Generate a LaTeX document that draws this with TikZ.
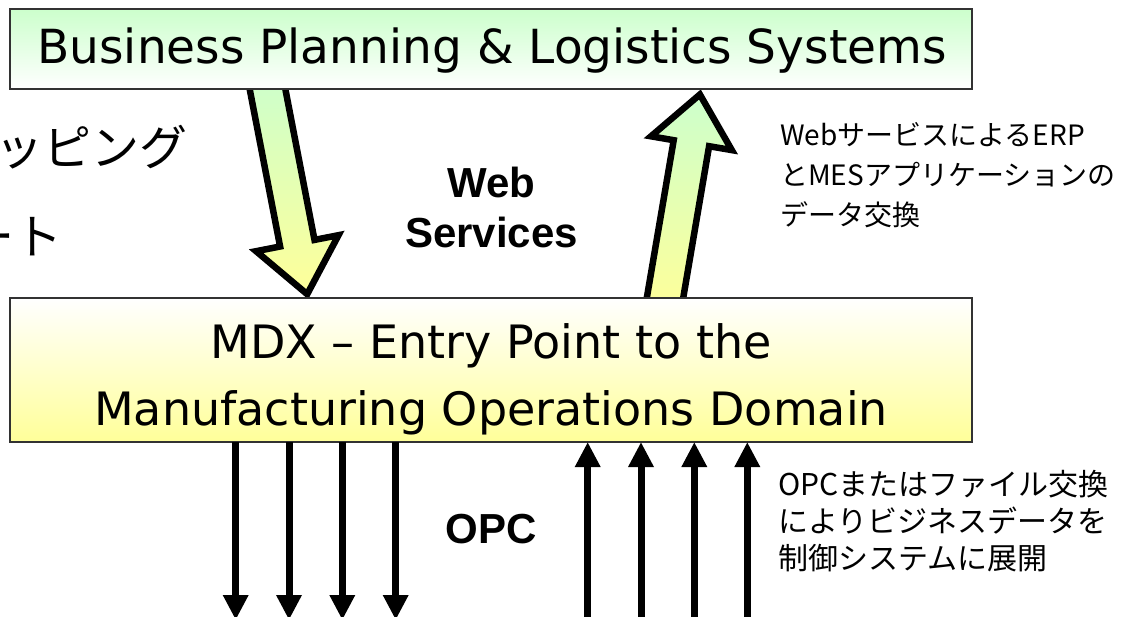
\documentclass[tikz,border=0pt]{standalone}
\usepackage{fontspec}
\setmainfont{DejaVu Sans}
\newfontfamily\jp{Noto Sans CJK JP}
\newfontfamily\arial{Liberation Sans}
\usetikzlibrary{arrows.meta}
\definecolor{lgreen}{RGB}{204,255,204}
\definecolor{lyellow}{RGB}{255,255,153}
\definecolor{boxline}{RGB}{50,50,50}
\tikzset{
  boxbase/.style={draw=boxline, line width=2pt, inner sep=0pt, outer sep=0pt, anchor=north west},
  greenbox/.style={boxbase, top color=lgreen, bottom color=white},
  yellowbox/.style={boxbase, top color=white, bottom color=lyellow},
  boxtext/.style={anchor=base, inner sep=0pt, font=\fontsize{46}{55}\selectfont},
  fatarrow/.style={draw=black, line width=6.5pt, line join=miter, top color=lgreen, bottom color=lyellow},
  thinarrow/.style={line width=7pt, -{Triangle[width=24pt,length=25pt]}},
  boldlabel/.style={anchor=base, inner sep=0pt, font=\arial\bfseries\fontsize{42}{50}\selectfont},
  jpnote/.style={anchor=base west, inner sep=0pt, font=\jp\fontsize{28}{38}\selectfont},
  jpnoteb/.style={anchor=base west, inner sep=0pt, font=\jp\fontsize{30}{38}\selectfont},
  jpbig/.style={anchor=base east, inner sep=0pt, font=\jp\fontsize{48}{56}\selectfont}
}
\begin{document}
\begin{tikzpicture}[x=1pt, y=-1pt]
\useasboundingbox (0,0) rectangle (1122,616);
% fat arrows (drawn first, boxes on top)
\draw[fatarrow] (248.4,82.5) -- (280.1,246.5) -- (256.1,251.2) -- (307.2,294.2)
   -- (338.5,235.2) -- (314.5,239.9) -- (282.8,75.9) -- cycle;
\draw[fatarrow] (645.6,304.9) -- (673.7,140.2) -- (651.0,136.3) -- (699.9,94.5)
   -- (731.8,150.1) -- (709.1,146.2) -- (681.0,310.9) -- cycle;
% boxes
\node[greenbox, minimum width=962pt, minimum height=80pt] (bp) at (10,9) {};
\node[yellowbox, minimum width=962pt, minimum height=144pt] (mdx) at (10,298) {};
\node[boxtext, font=\fontsize{47}{55}\selectfont] (bptxt) at (492,63) {Business Planning \& Logistics Systems};
\node[boxtext] (mdx1) at (491,358) {MDX – Entry Point to the};
\node[boxtext] (mdx2) at (491,425) {Manufacturing Operations Domain};
% left cut-off texts
\node[jpbig] (lt1) at (188,165) {マッピング};
\node[jpbig] (lt2) at (63,254) {ート};
% labels
\node[boldlabel] (ws1) at (491.5,197) {Web};
\node[boldlabel] (ws2) at (491.5,247) {Services};
\node[boldlabel] (opc) at (491,543) {OPC};
\node[jpnote] (n1) at (780,145) {WebサービスによるERP};
\node[jpnote] (n2) at (780,185) {とMESアプリケーションの};
\node[jpnote] (n3) at (780,225) {データ交換};
\node[jpnoteb] (m1) at (778,495) {OPCまたはファイル交換};
\node[jpnoteb] (m2) at (778,532) {によりビジネスデータを};
\node[jpnoteb] (m3) at (778,569) {制御システムに展開};
% thin arrows
\coordinate (d1) at (235.7,620);
\coordinate (d2) at (289.0,620);
\coordinate (d3) at (342.3,620);
\coordinate (d4) at (395.7,620);
\coordinate (u1) at (587.7,630);
\coordinate (u2) at (641.0,630);
\coordinate (u3) at (694.3,630);
\coordinate (u4) at (747.3,630);
\foreach \p in {d1,d2,d3,d4} \draw[thinarrow] (\p |- mdx.south) -- (\p);
\foreach \p in {u1,u2,u3,u4} \draw[thinarrow] (\p) -- (\p |- mdx.south);
\end{tikzpicture}
\end{document}
